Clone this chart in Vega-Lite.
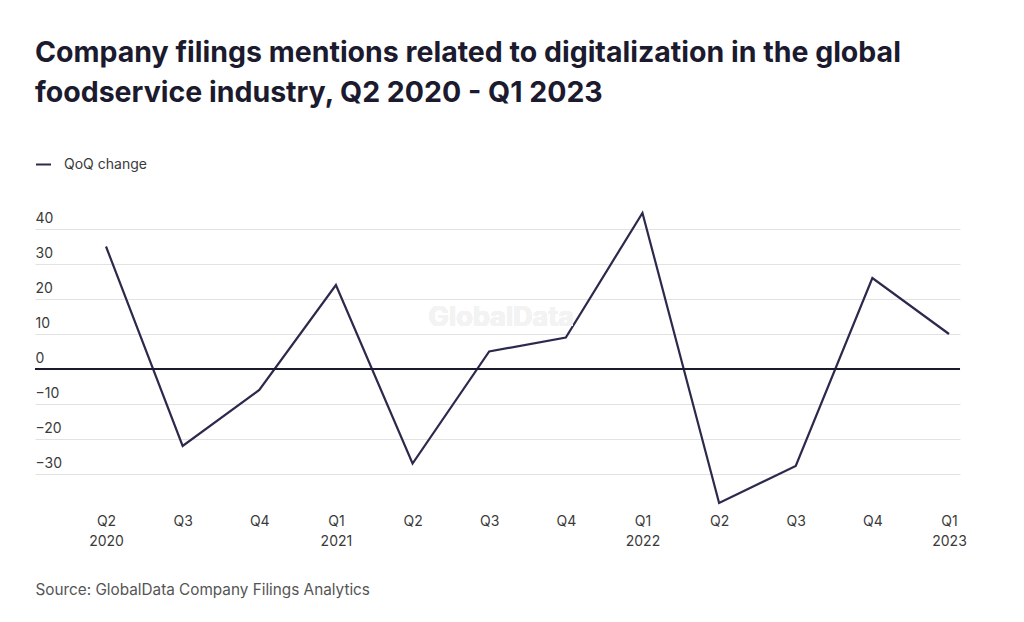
{
  "$schema": "https://vega.github.io/schema/vega-lite/v6.json",
  "autosize": "none",
  "width": 925,
  "height": 301,
  "padding": {"left": 35, "top": 208, "right": 64, "bottom": 113},
  "background": "white",
  "config": {
    "view": {"stroke": null},
    "font": "Inter",
    "text": {"font": "Inter"}
  },
  "title": {
    "text": ["Company filings mentions related to digitalization in the global", "foodservice industry, Q2 2020 - Q1 2023"],
    "anchor": "start",
    "frame": "group",
    "font": "Inter",
    "fontSize": 28.5,
    "fontWeight": 700,
    "color": "#1b1a2e",
    "lineHeight": 40,
    "offset": 49
  },
  "data": {
    "values": [
      {"quarter": "Q2 2020", "change": 35},
      {"quarter": "Q3 2020", "change": -22},
      {"quarter": "Q4 2020", "change": -6},
      {"quarter": "Q1 2021", "change": 24},
      {"quarter": "Q2 2021", "change": -27},
      {"quarter": "Q3 2021", "change": 5},
      {"quarter": "Q4 2021", "change": 9},
      {"quarter": "Q1 2022", "change": 44.6},
      {"quarter": "Q2 2022", "change": -38.3},
      {"quarter": "Q3 2022", "change": -27.7},
      {"quarter": "Q4 2022", "change": 26},
      {"quarter": "Q1 2023", "change": 10}
    ]
  },
  "layer": [
    {
      "mark": {"type": "line", "strokeWidth": 2.2},
      "encoding": {
        "x": {
          "field": "quarter",
          "type": "ordinal",
          "sort": null,
          "scale": {"type": "point", "padding": 0.535, "align": 0.866},
          "axis": {
            "title": "Source: GlobalData Company Filings Analytics",
            "titleAnchor": "start",
            "titleAlign": "left",
            "titleX": 0,
            "titleFont": "Inter",
            "titleFontSize": 15.3,
            "titleFontWeight": 400,
            "titleColor": "#555555",
            "titlePadding": 34,
            "labelAngle": 0,
            "labelExpr": "datum.value == 'Q2 2020' || indexof(datum.value, 'Q1') == 0 ? split(datum.value, ' ') : split(datum.value, ' ')[0]",
            "labelFont": "Inter",
            "labelFontSize": 14,
            "labelColor": "#3a3a3a",
            "labelLineHeight": 20,
            "labelPadding": 5,
            "ticks": false,
            "domain": false,
            "grid": false
          }
        },
        "y": {
          "field": "change",
          "type": "quantitative",
          "scale": {"domain": [-40, 46], "nice": false},
          "axis": {
            "title": null,
            "values": [-30, -20, -10, 0, 10, 20, 30, 40],
            "labelAlign": "left",
            "labelBaseline": "bottom",
            "labelOffset": -4,
            "labelPadding": 0,
            "labelFont": "Inter",
            "labelFontSize": 14,
            "labelColor": "#3a3a3a",
            "ticks": false,
            "domain": false,
            "grid": true,
            "gridColor": "#e2e2e2",
            "gridWidth": 1
          }
        },
        "color": {
          "datum": "QoQ change",
          "type": "nominal",
          "scale": {"range": ["#2b2a4d"]},
          "legend": {
            "title": null,
            "orient": "none",
            "legendX": 0,
            "legendY": -52,
            "symbolType": "stroke",
            "symbolSize": 225,
            "symbolStrokeWidth": 2,
            "labelFont": "Inter",
            "labelFontSize": 14,
            "labelColor": "#3a3a3a",
            "labelOffset": 12
          }
        }
      }
    },
    {
      "mark": {"type": "rule", "color": "#1b1a2e", "strokeWidth": 1.2},
      "encoding": {"y": {"datum": 0}}
    },
    {
      "mark": {"type": "text", "text": "GlobalData", "font": "Inter", "fontSize": 27, "fontWeight": 700, "color": "#f3f3f3", "xOffset": 12},
      "encoding": {
        "x": {"datum": "Q3 2021", "type": "ordinal"},
        "y": {"datum": 14.5, "type": "quantitative"}
      }
    }
  ]
}
